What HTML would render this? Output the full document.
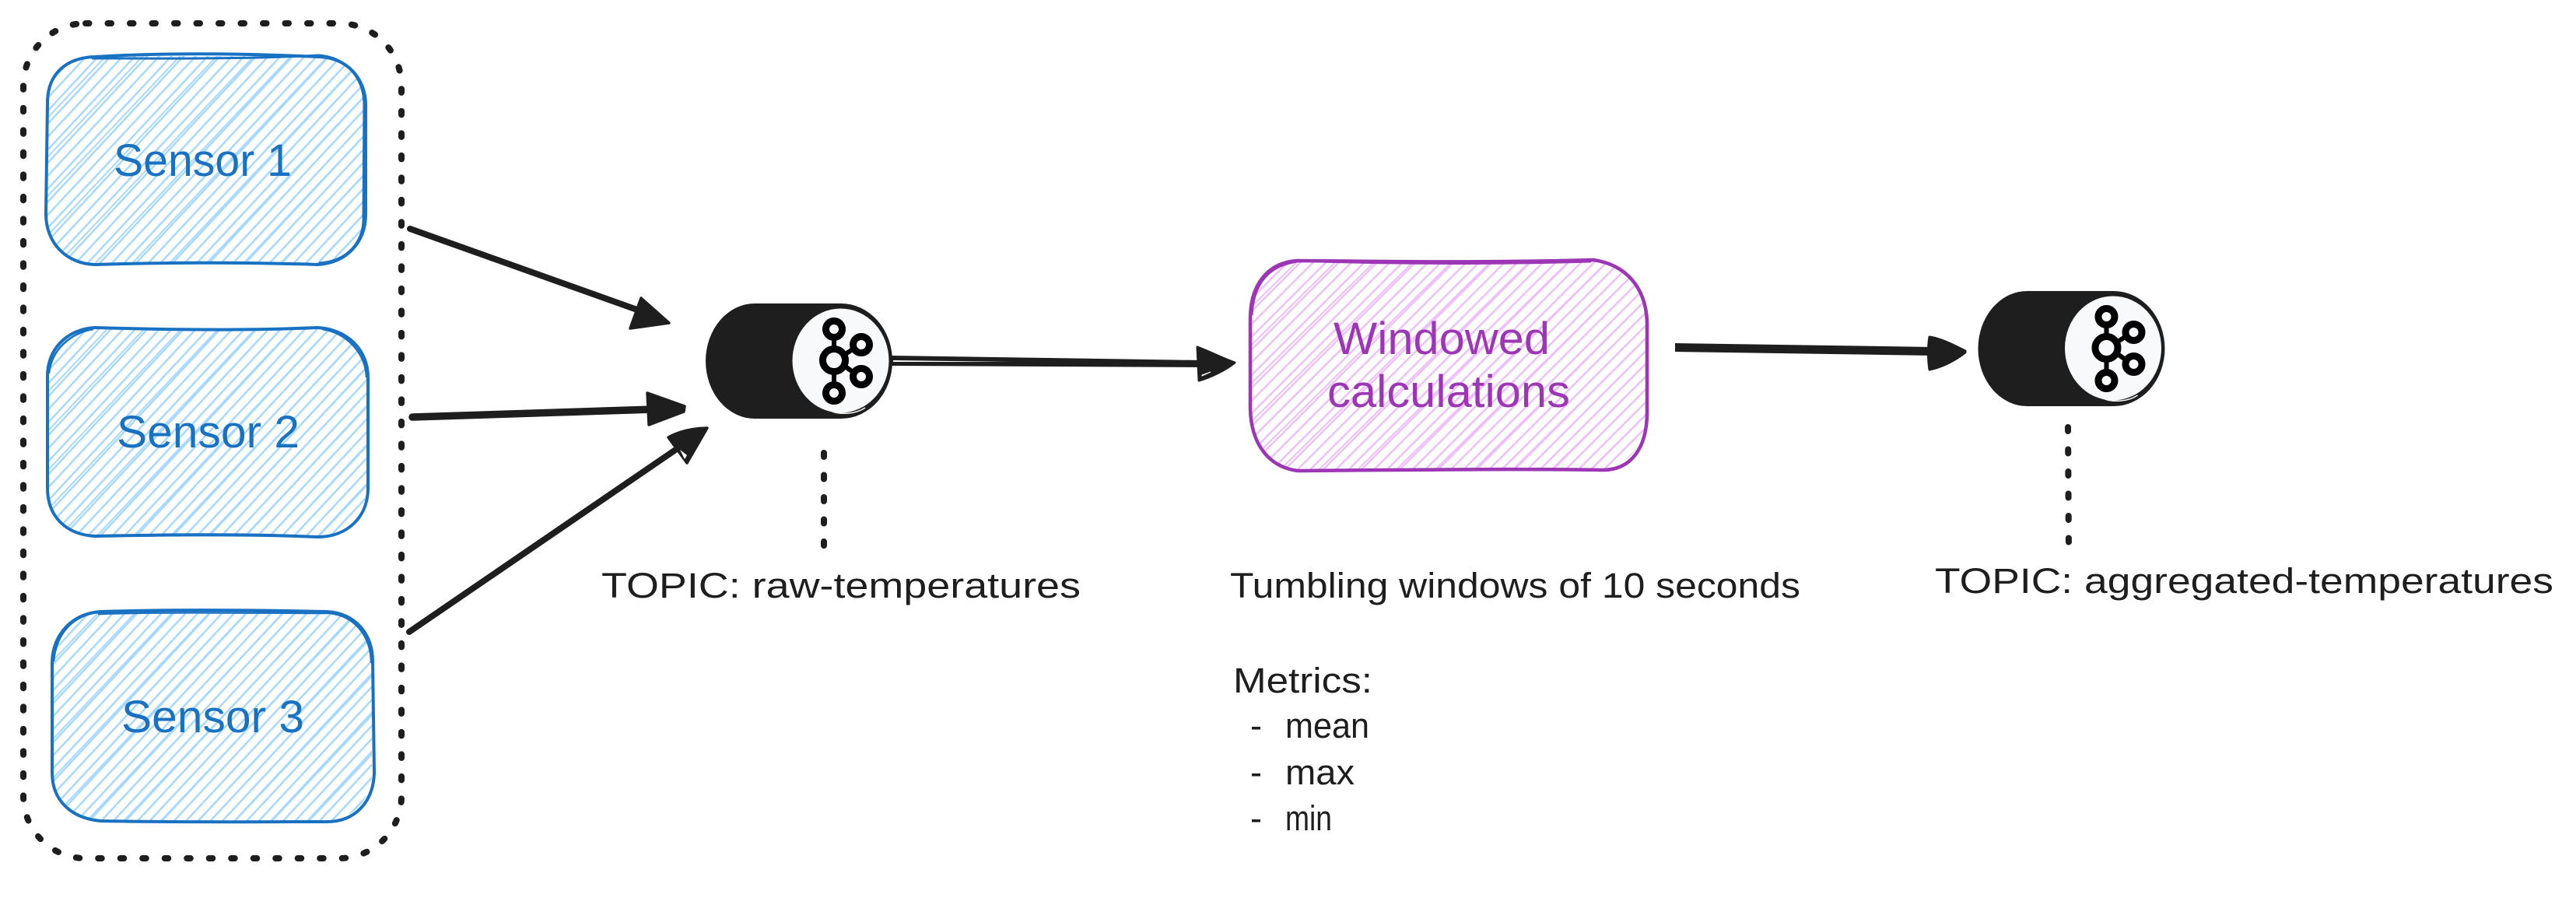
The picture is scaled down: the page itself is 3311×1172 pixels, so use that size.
<!DOCTYPE html>
<html><head><meta charset="utf-8"><style>
html,body{margin:0;padding:0;background:#fff;width:3311px;height:1172px;overflow:hidden}
svg{display:block}
.s{font-family:"Liberation Sans",sans-serif;font-size:58px;fill:#1971c2}
.w{font-family:"Liberation Sans",sans-serif;font-size:58px;fill:#9c36b5}
.t{font-family:"Liberation Sans",sans-serif;font-size:45px;fill:#1e1e1e}
</style></head><body>
<svg xmlns="http://www.w3.org/2000/svg" width="3311" height="1172" viewBox="0 0 3311 1172">
<defs>
<pattern id="hb" patternUnits="userSpaceOnUse" width="11.4" height="11.4" patternTransform="rotate(-47)"><rect x="0" y="4" width="11.4" height="2.4" fill="#a5d8ff"/></pattern>
<pattern id="hb2" patternUnits="userSpaceOnUse" width="34.6" height="34.6" patternTransform="rotate(-46.6)"><rect x="0" y="9" width="34.6" height="2" fill="#a5d8ff"/></pattern>
<pattern id="hp" patternUnits="userSpaceOnUse" width="11.6" height="11.6" patternTransform="rotate(-45)"><rect x="0" y="4" width="11.6" height="2.4" fill="#eebefa"/></pattern>
<pattern id="hp2" patternUnits="userSpaceOnUse" width="35" height="35" patternTransform="rotate(-44.6)"><rect x="0" y="9" width="35" height="2" fill="#eebefa"/></pattern>
<g id="k">
<path d="M970 390H1081A66 74 0 0 1 1081 538H970A63 74 0 0 1 970 390Z" fill="#1e1e1e"/>
<ellipse cx="1080.5" cy="463.5" rx="62" ry="67" fill="#f8f9fa"/>
<path d="M1070 529C1082 533 1100 532 1112 524" fill="none" stroke="#f8f9fa" stroke-width="1.5"/>
<g fill="none" stroke="#000">
<path d="M1072 433V450M1072 478V495M1085 456L1099 447M1085 470L1099 480" stroke-width="6"/>
<g stroke-width="9">
<circle cx="1072" cy="463" r="14.5"/>
<circle cx="1072" cy="423" r="10.5"/>
<circle cx="1072" cy="505" r="10.5"/>
<circle cx="1107" cy="443" r="10.5"/>
<circle cx="1107" cy="484" r="10.5"/>
</g>
</g>
</g>
</defs>
<rect width="3311" height="1172" fill="#fff"/>

<!-- dashed container -->
<path d="M110 30H436A80 80 0 0 1 516 110V1023A80 80 0 0 1 436 1103H110A80 80 0 0 1 30 1023V110A80 80 0 0 1 110 30Z" fill="none" stroke="#1e1e1e" stroke-width="8" stroke-linecap="round" stroke-dasharray="4.5 24"/>

<!-- sensors -->
<g id="sensor1">
<path d="M122 72H408A60 60 0 0 1 468 132V276A60 60 0 0 1 408 338H122A60 60 0 0 1 60 276V132A60 60 0 0 1 122 72Z" fill="url(#hb)"/>
<path d="M122 72H408A60 60 0 0 1 468 132V276A60 60 0 0 1 408 338H122A60 60 0 0 1 60 276V132A60 60 0 0 1 122 72Z" fill="url(#hb2)"/>
<path d="M122 73C220 67 320 69 408 73C445 73 470 100 470 135V275C470 312 445 338 408 340C320 337 220 337 122 340C85 339 59 312 59 275L61 132C61 95 85 74 122 73Z" fill="none" stroke="#1971c2" stroke-width="4"/>
<path d="M118 75C220 75 320 76 410 71C447 74 468 102 468 135L467 280C468 310 447 336 410 338" fill="none" stroke="#1971c2" stroke-width="3"/>
</g>
<text class="s" x="146" y="226" textLength="229" lengthAdjust="spacingAndGlyphs">Sensor 1</text>

<path d="M122 423H410A60 60 0 0 1 472 483V627A60 60 0 0 1 410 688H122A60 60 0 0 1 61 627V483A60 60 0 0 1 122 423Z" fill="url(#hb)"/>
<path d="M122 423H410A60 60 0 0 1 472 483V627A60 60 0 0 1 410 688H122A60 60 0 0 1 61 627V483A60 60 0 0 1 122 423Z" fill="url(#hb2)"/>
<path d="M122 421C220 424 320 425 408 421C447 423 473 450 473 485V627C473 664 447 690 408 690C320 686 220 687 122 689C85 687 61 664 61 627V485C60 450 85 423 122 421Z" fill="none" stroke="#1971c2" stroke-width="4"/>
<path d="M120 423C90 428 66 450 63 480M414 423C447 428 470 455 471 485" fill="none" stroke="#1971c2" stroke-width="2.5"/>
<text class="s" x="150" y="575" textLength="235" lengthAdjust="spacingAndGlyphs">Sensor 2</text>

<path d="M130 787H420A60 60 0 0 1 478 847V993A60 60 0 0 1 420 1055H130A60 60 0 0 1 68 993V847A60 60 0 0 1 130 787Z" fill="url(#hb)"/>
<path d="M130 787H420A60 60 0 0 1 478 847V993A60 60 0 0 1 420 1055H130A60 60 0 0 1 68 993V847A60 60 0 0 1 130 787Z" fill="url(#hb2)"/>
<path d="M130 786C230 783 330 784 420 786C457 788 479 815 479 850L481 993C480 1030 457 1056 420 1056C330 1056 230 1057 130 1055C93 1052 67 1030 67 993V850C68 815 93 788 130 786Z" fill="none" stroke="#1971c2" stroke-width="4"/>
<path d="M126 789C230 786 330 788 424 788C458 792 477 820 477 852M125 787C92 792 72 815 69 850" fill="none" stroke="#1971c2" stroke-width="2.5"/>
<text class="s" x="156" y="941" textLength="235" lengthAdjust="spacingAndGlyphs">Sensor 3</text>

<!-- arrows into topic -->
<g stroke="#1e1e1e" stroke-linecap="round" stroke-linejoin="round" fill="#1e1e1e">
<line x1="527" y1="294" x2="830" y2="402" stroke-width="8"/>
<polygon points="860,415 824,383 810,422" stroke-width="3.5"/>
<line x1="530" y1="536" x2="840" y2="526" stroke-width="9.5"/>
<polygon points="880,522 879,529 834,546 832,505" stroke-width="3.5"/>
<line x1="526" y1="812" x2="880" y2="570" stroke-width="8"/>
<path d="M909 550C890 550 872 555 859 562L883 595Z" stroke-width="3.5"/>
</g>
<polygon points="874,578 880,590 883,585" fill="#fff"/>

<!-- topic 1 -->
<use href="#k"/>
<path d="M1059 578V706" fill="none" stroke="#1e1e1e" stroke-width="8" stroke-linecap="round" stroke-dasharray="5 23.5" stroke-dashoffset="-4"/>
<text class="t" x="773" y="768" textLength="616" lengthAdjust="spacingAndGlyphs">TOPIC: raw-temperatures</text>

<!-- topic to box -->
<g stroke="#1e1e1e" stroke-linecap="round" stroke-linejoin="round" fill="#1e1e1e">
<polygon points="1146,457 1545,463 1545,472 1146,470" stroke="none"/>
<path d="M1587 466C1570 460 1555 452 1539 446L1541 489C1555 485 1575 476 1587 466Z" stroke-width="3"/>
</g>
<polygon points="1148,463 1300,465 1148,465" fill="#fff"/>
<polygon points="1545,482 1545,483 1556,478" fill="#fff" stroke="#fff" stroke-width="1"/>

<!-- windowed box -->
<path d="M1675 335H2050A66 66 0 0 1 2116 400V540A66 66 0 0 1 2050 604H1675A66 66 0 0 1 1607 540V400A66 66 0 0 1 1675 335Z" fill="url(#hp)"/>
<path d="M1675 335H2050A66 66 0 0 1 2116 400V540A66 66 0 0 1 2050 604H1675A66 66 0 0 1 1607 540V400A66 66 0 0 1 1675 335Z" fill="url(#hp2)"/>
<path d="M1668 335C1780 336 1900 338 2048 334C2090 340 2116 370 2117 415V530C2117 575 2097 604 2060 604C1930 602 1800 604 1668 605C1630 600 1608 570 1607 525V410C1607 365 1630 337 1668 335Z" fill="none" stroke="#9c36b5" stroke-width="4.5"/>
<path d="M1665 335C1780 339 1900 340 2045 336M1668 336C1630 341 1611 365 1609 405" fill="none" stroke="#9c36b5" stroke-width="3"/>
<text class="w" x="1714" y="455" textLength="278" lengthAdjust="spacingAndGlyphs">Windowed</text>
<text class="w" x="1706" y="523" textLength="312" lengthAdjust="spacingAndGlyphs">calculations</text>

<text class="t" x="1581" y="768" textLength="733" lengthAdjust="spacingAndGlyphs">Tumbling windows of 10 seconds</text>
<text class="t" x="1585" y="890" textLength="179" lengthAdjust="spacingAndGlyphs">Metrics:</text>
<text class="t" x="1607" y="948" textLength="15" lengthAdjust="spacingAndGlyphs">-</text>
<text class="t" x="1652" y="948" textLength="108" lengthAdjust="spacingAndGlyphs">mean</text>
<text class="t" x="1607" y="1008" textLength="15" lengthAdjust="spacingAndGlyphs">-</text>
<text class="t" x="1652" y="1008" textLength="89" lengthAdjust="spacingAndGlyphs">max</text>
<text class="t" x="1607" y="1067" textLength="15" lengthAdjust="spacingAndGlyphs">-</text>
<text class="t" x="1652" y="1067" textLength="60" lengthAdjust="spacingAndGlyphs">min</text>

<!-- box to topic 2 -->
<g stroke="#1e1e1e" stroke-linejoin="round" fill="#1e1e1e">
<polygon points="2153,441 2485,446 2485,457 2153,452" stroke="none"/>
<path d="M2526 451C2512 444 2495 435 2480 433C2478 445 2478 462 2480 475C2495 472 2512 464 2526 453Z" stroke-width="3"/>
</g>

<!-- topic 2 -->
<use href="#k" x="1635.5" y="-16"/>
<path d="M2658 547L2659 705" fill="none" stroke="#1e1e1e" stroke-width="8" stroke-linecap="round" stroke-dasharray="5 23.5" stroke-dashoffset="-2"/>
<text class="t" x="2487" y="762" textLength="795" lengthAdjust="spacingAndGlyphs">TOPIC: aggregated-temperatures</text>
</svg>
</body></html>
